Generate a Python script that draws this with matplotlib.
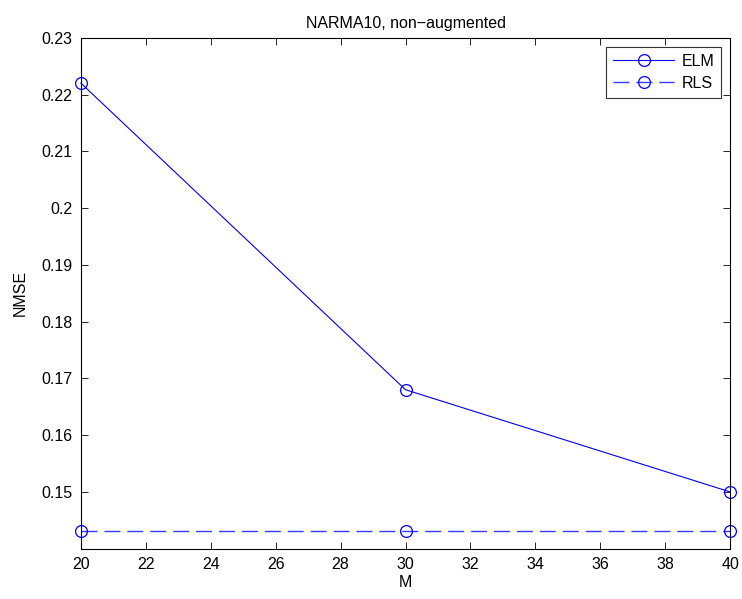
import matplotlib
matplotlib.use("Agg")
import matplotlib.pyplot as plt

M = [20, 30, 40]
elm = [0.222, 0.168, 0.150]
rls = [0.1431, 0.1431, 0.1431]
xticks = list(range(20, 41, 2))
yticks = [0.15, 0.16, 0.17, 0.18, 0.19, 0.2, 0.21, 0.22, 0.23]
ytick_labels = ["0.15", "0.16", "0.17", "0.18", "0.19", "0.2", "0.21", "0.22", "0.23"]

plt.rcParams['font.family'] = ['Liberation Sans', 'DejaVu Sans']
plt.rcParams['lines.scale_dashes'] = False

fig = plt.figure(figsize=(7.42, 5.99), dpi=100)
ax = fig.add_axes([0.109, 0.084, 0.875, 0.853])

ax.plot(M, elm, color='blue', lw=0.8, marker='o', ms=8.5, mfc='none', mec='blue', mew=0.9,
        label='ELM', clip_on=False)
ax.plot(M, rls, color='#3a3aff', lw=1.0, ls=(0, (11.5, 5)), marker='o', ms=8.5, mfc='none',
        mec='blue', mew=0.9, label='RLS', clip_on=False)

ax.set_xlim(20, 40)
ax.set_ylim(0.14, 0.23)
ax.set_xticks(xticks)
ax.set_yticks(yticks)
ax.set_yticklabels(ytick_labels)
ax.tick_params(direction='in', top=True, right=True, length=5, width=0.6, labelsize=11.5, pad=6)
for s in ax.spines.values():
    s.set_linewidth(0.8)

ax.set_xlabel('M', fontsize=11.5, labelpad=2)
ax.set_ylabel('NMSE', fontsize=11.5, labelpad=10)
ax.set_title('NARMA10, non\u2212augmented', fontsize=11.5, pad=7)

leg = ax.legend(loc='upper right', fontsize=11.5, frameon=True, fancybox=False, edgecolor='black',
                handlelength=3.8, borderaxespad=0.55, labelspacing=0.45, handletextpad=0.45,
                borderpad=0.45)
leg.get_frame().set_linewidth(0.8)

fig.savefig('out.png', dpi=100)
